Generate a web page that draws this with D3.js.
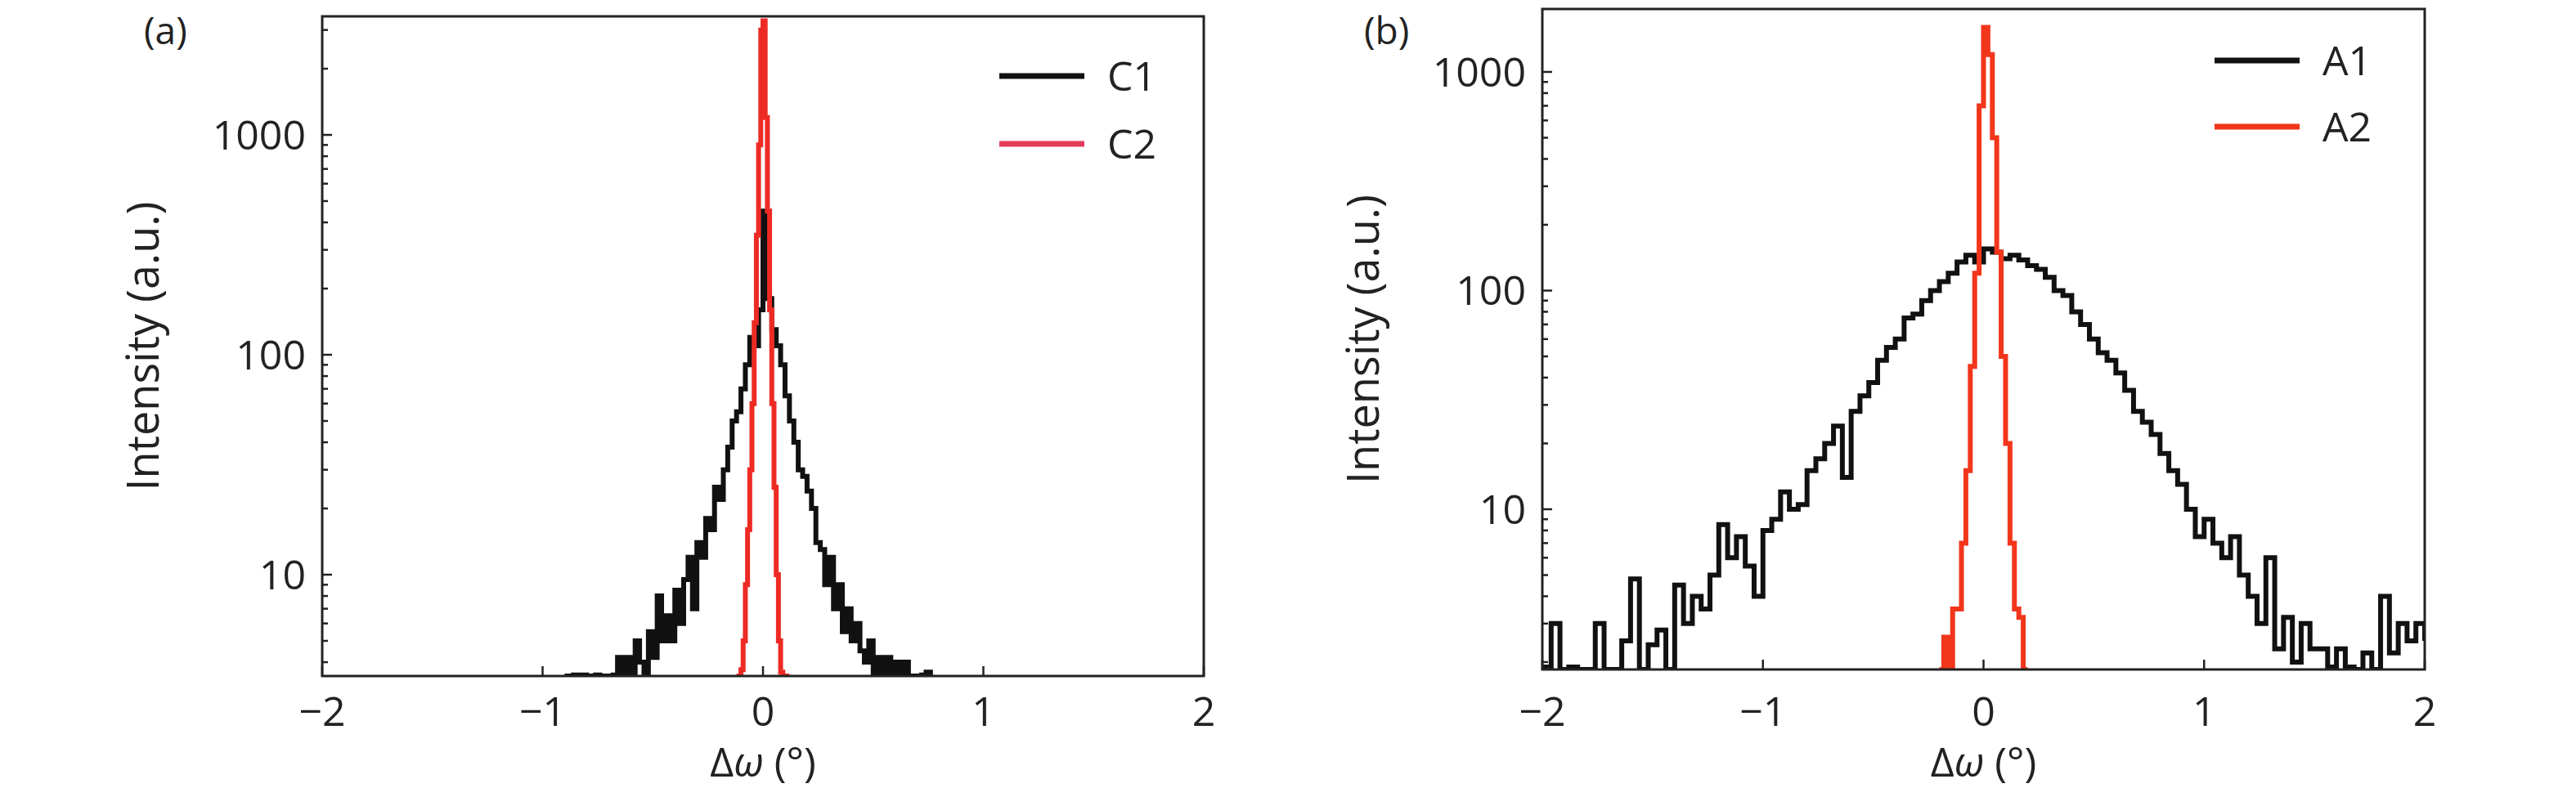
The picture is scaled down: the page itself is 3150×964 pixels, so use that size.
<!DOCTYPE html>
<html><head><meta charset="utf-8">
<script src="https://cdn.jsdelivr.net/npm/d3@7"></script>
<style>
body{margin:0;background:#fff;}
text{font-family:"Liberation Sans Narrow","Open Sans",sans-serif;fill:#222;}
</style></head>
<body><svg id="chart" width="3150" height="964"></svg>
<script>
// x grids: start, step
var c1Start = -0.90, c1Step = 0.02;
var c1Values = [1,1,3.5,1,3.5,1,1,3.5,1,1,1,3.5,4.2,3.5,4.2,3.5,5,4,3.5,5.5,4.2,8,5,6.5,5,8.5,6,9.5,12,7,14,12,18,16,25,22,30,38,50,55,70,90,120,110,160,450,180,130,110,90,65,50,40,30,28,24,20,14,13,9,12,7,9,5.5,7,5,6,4.5,4,5,3.5,4.2,3.5,4.2,3.5,4,1,4,1,1,1,3.5,3.6,1];
var c2Start = -0.12, c2Step = 0.01;
var c2Values = [1,1,3.7,5,9,16,30,60,140,350,900,3000,3300,1200,450,160,60,25,10,5,3.6,1,1,1,1];
var a1Start = -2.0, a1Step = 0.04;
var a1Values = [1.9,3,1,1.9,1,1,3,1,1,2.5,4.8,1,2.4,2.8,1,4.5,3,4,3.5,5,8.5,6,7.5,5.5,4,8,9,12,10,10.5,15,17,20,24,14,28,33,38,48,55,60,75,78,90,100,110,120,135,145,135,155,150,140,145,138,130,125,115,100,95,80,70,60,52,48,42,35,28,25,22,18,15,13,10,7.5,9,7,6,7.5,5,4,3,6,2.3,3.2,2,3,2.3,2.3,1.9,2.3,1.9,1,2.2,1,4,2.2,3,2.5,3,2.5];
var a2Start = -0.20, a2Step = 0.02;
var a2Values = [1,2.6,1,3.5,3.5,7,15,45,120,700,1600,1200,500,150,50,20,7,3.5,3.2,1,1];
var xTicks = [-2,-1,0,1,2];
var yTicks = [10,100,1000];

function toPts(start, step, vals){
  return vals.map(function(v,i){ return [start+i*step, v]; });
}

var svg = d3.select("#chart");
var panels = [
  {tag:"(a)", left:394, right:1472, top:20, bottom:827, yMin:3.46, yMax:3460,
   series:[{name:"C1", pts:toPts(c1Start,c1Step,c1Values), color:"#111"},
           {name:"C2", pts:toPts(c2Start,c2Step,c2Values), color:"#ee2a24", legColor:"#e63a5a"}],
   legX:1222, legY:[93,176]},
  {tag:"(b)", left:1886, right:2965, top:11, bottom:819, yMin:1.85, yMax:1940,
   series:[{name:"A1", pts:toPts(a1Start,a1Step,a1Values), color:"#111"},
           {name:"A2", pts:toPts(a2Start,a2Step,a2Values), color:"#f2361b"}],
   legX:2708, legY:[74,155]}
];

panels.forEach(function(p){
  var x = d3.scaleLinear().domain([-2,2]).range([p.left,p.right]);
  var y = d3.scaleLog().domain([p.yMin,p.yMax]).range([p.bottom,p.top]).clamp(true);
  var g = svg.append("g");

  var clipId = "clip" + p.tag.replace(/\W/g,"");
  g.append("clipPath").attr("id",clipId).append("rect")
    .attr("x",p.left).attr("y",p.top).attr("width",p.right-p.left).attr("height",p.bottom-p.top);

  var line = d3.line().x(function(d){return x(d[0]);}).y(function(d){return y(d[1]);})
    .curve(d3.curveStepAfter);
  p.series.forEach(function(s){
    g.append("path").attr("d",line(s.pts)).attr("fill","none")
      .attr("stroke",s.color).attr("stroke-width",6).attr("clip-path","url(#"+clipId+")");
  });

  // frame
  g.append("rect").attr("x",p.left).attr("y",p.top).attr("width",p.right-p.left)
    .attr("height",p.bottom-p.top).attr("fill","none").attr("stroke","#222").attr("stroke-width",3);

  // x ticks (inward)
  xTicks.forEach(function(t){
    g.append("line").attr("x1",x(t)).attr("x2",x(t)).attr("y1",p.bottom).attr("y2",p.bottom-12)
      .attr("stroke","#222").attr("stroke-width",2.5);
    g.append("text").attr("x",x(t)).attr("y",888).attr("text-anchor","middle")
      .attr("font-size",50).text(t<0 ? "\u2212"+(-t) : t);
  });
  // y ticks, minor + major
  var minor = [];
  for (var dec=1; dec<=1000; dec*=10) for (var k=1; k<10; k++){
    var v = k*dec; if (v>=p.yMin && v<=p.yMax) minor.push(v);
  }
  minor.forEach(function(v){
    var major = yTicks.indexOf(v) >= 0;
    g.append("line").attr("x1",p.left).attr("x2",p.left+(major?12:7))
      .attr("y1",y(v)).attr("y2",y(v)).attr("stroke","#222").attr("stroke-width",2.5);
  });
  yTicks.forEach(function(t){
    g.append("text").attr("x",p.left-20).attr("y",y(t)+18).attr("text-anchor","end")
      .attr("font-size",50).text(t);
  });

  g.append("text").attr("x",(p.left+p.right)/2).attr("y",950).attr("text-anchor","middle")
    .attr("font-size",50).html("\u0394<tspan font-style='italic'>\u03c9</tspan> (\u00b0)");
  g.append("text").attr("transform","translate("+(p.left-200)+","+((p.top+p.bottom)/2)+") rotate(-90)")
    .attr("text-anchor","middle").attr("font-family","'Open Sans',sans-serif").attr("font-size",54)
    .text("Intensity (a.u.)");
  g.append("text").attr("x",p.left-218).attr("y",54).attr("font-size",46).text(p.tag);

  p.series.forEach(function(s,i){
    g.append("line").attr("x1",p.legX).attr("x2",p.legX+104).attr("y1",p.legY[i]).attr("y2",p.legY[i])
      .attr("stroke",s.legColor||s.color).attr("stroke-width",7);
    g.append("text").attr("x",p.legX+132).attr("y",p.legY[i]+18).attr("font-size",50).text(s.name);
  });
});
</script></body></html>
